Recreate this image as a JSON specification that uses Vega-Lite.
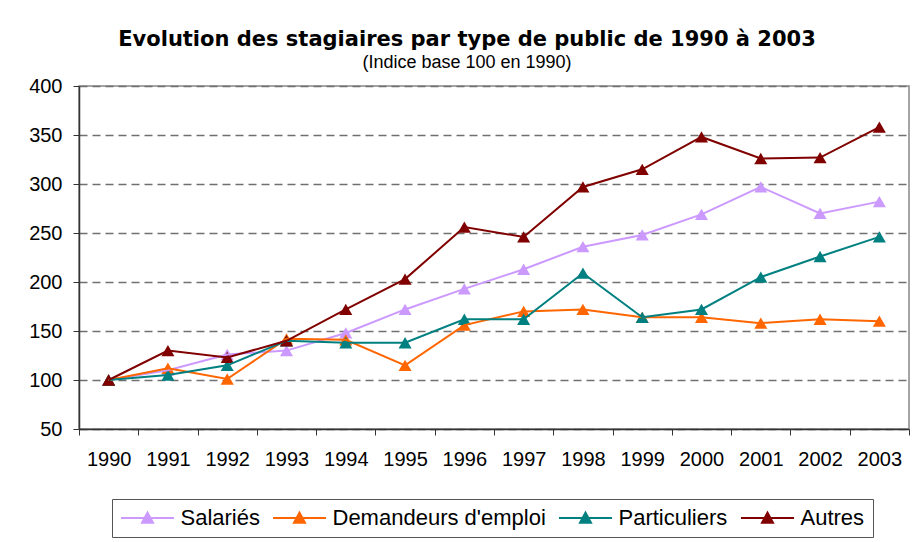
{
  "$schema": "https://vega.github.io/schema/vega-lite/v6.json",
  "width": 830,
  "height": 343,
  "autosize": {"type": "none"},
  "padding": {"left": 79, "top": 86, "right": 9, "bottom": 113},
  "background": "white",
  "title": {
    "text": "Evolution des stagiaires par type de public de 1990 à 2003",
    "subtitle": "(Indice base 100 en 1990)",
    "anchor": "middle",
    "dx": -27,
    "font": "DejaVu Sans",
    "fontSize": 21,
    "fontWeight": "bold",
    "color": "#000",
    "subtitleFont": "Liberation Sans",
    "subtitleFontSize": 18,
    "subtitleColor": "#000",
    "subtitlePadding": 4,
    "offset": 4
  },
  "data": {
    "values": [
      {"annee": "1990", "type": "Salariés", "valeur": 100},
      {"annee": "1991", "type": "Salariés", "valeur": 110},
      {"annee": "1992", "type": "Salariés", "valeur": 126},
      {"annee": "1993", "type": "Salariés", "valeur": 130},
      {"annee": "1994", "type": "Salariés", "valeur": 148},
      {"annee": "1995", "type": "Salariés", "valeur": 172},
      {"annee": "1996", "type": "Salariés", "valeur": 193},
      {"annee": "1997", "type": "Salariés", "valeur": 213},
      {"annee": "1998", "type": "Salariés", "valeur": 236},
      {"annee": "1999", "type": "Salariés", "valeur": 248},
      {"annee": "2000", "type": "Salariés", "valeur": 269},
      {"annee": "2001", "type": "Salariés", "valeur": 297},
      {"annee": "2002", "type": "Salariés", "valeur": 270},
      {"annee": "2003", "type": "Salariés", "valeur": 282},
      {"annee": "1990", "type": "Demandeurs d'emploi", "valeur": 100},
      {"annee": "1991", "type": "Demandeurs d'emploi", "valeur": 112},
      {"annee": "1992", "type": "Demandeurs d'emploi", "valeur": 101},
      {"annee": "1993", "type": "Demandeurs d'emploi", "valeur": 142},
      {"annee": "1994", "type": "Demandeurs d'emploi", "valeur": 141},
      {"annee": "1995", "type": "Demandeurs d'emploi", "valeur": 115},
      {"annee": "1996", "type": "Demandeurs d'emploi", "valeur": 156},
      {"annee": "1997", "type": "Demandeurs d'emploi", "valeur": 170},
      {"annee": "1998", "type": "Demandeurs d'emploi", "valeur": 172},
      {"annee": "1999", "type": "Demandeurs d'emploi", "valeur": 164},
      {"annee": "2000", "type": "Demandeurs d'emploi", "valeur": 164},
      {"annee": "2001", "type": "Demandeurs d'emploi", "valeur": 158},
      {"annee": "2002", "type": "Demandeurs d'emploi", "valeur": 162},
      {"annee": "2003", "type": "Demandeurs d'emploi", "valeur": 160},
      {"annee": "1990", "type": "Particuliers", "valeur": 100},
      {"annee": "1991", "type": "Particuliers", "valeur": 105},
      {"annee": "1992", "type": "Particuliers", "valeur": 115},
      {"annee": "1993", "type": "Particuliers", "valeur": 140},
      {"annee": "1994", "type": "Particuliers", "valeur": 138},
      {"annee": "1995", "type": "Particuliers", "valeur": 138},
      {"annee": "1996", "type": "Particuliers", "valeur": 162},
      {"annee": "1997", "type": "Particuliers", "valeur": 162},
      {"annee": "1998", "type": "Particuliers", "valeur": 209},
      {"annee": "1999", "type": "Particuliers", "valeur": 164},
      {"annee": "2000", "type": "Particuliers", "valeur": 172},
      {"annee": "2001", "type": "Particuliers", "valeur": 205},
      {"annee": "2002", "type": "Particuliers", "valeur": 226},
      {"annee": "2003", "type": "Particuliers", "valeur": 246},
      {"annee": "1990", "type": "Autres", "valeur": 100},
      {"annee": "1991", "type": "Autres", "valeur": 130},
      {"annee": "1992", "type": "Autres", "valeur": 123},
      {"annee": "1993", "type": "Autres", "valeur": 140},
      {"annee": "1994", "type": "Autres", "valeur": 172},
      {"annee": "1995", "type": "Autres", "valeur": 203},
      {"annee": "1996", "type": "Autres", "valeur": 256},
      {"annee": "1997", "type": "Autres", "valeur": 246},
      {"annee": "1998", "type": "Autres", "valeur": 297},
      {"annee": "1999", "type": "Autres", "valeur": 315},
      {"annee": "2000", "type": "Autres", "valeur": 348},
      {"annee": "2001", "type": "Autres", "valeur": 326},
      {"annee": "2002", "type": "Autres", "valeur": 327},
      {"annee": "2003", "type": "Autres", "valeur": 358}
    ]
  },
  "encoding": {
    "x": {
      "field": "annee",
      "type": "ordinal",
      "scale": {"paddingInner": 0, "paddingOuter": 0},
      "axis": {
        "title": null,
        "labelAngle": 0,
        "labelFont": "Liberation Sans",
        "labelFontSize": 20,
        "labelColor": "#000",
        "labelPadding": 14,
        "tickBand": "extent",
        "tickSize": 6,
        "tickColor": "#333",
        "domainColor": "#333",
        "domainWidth": 1.5,
        "grid": false
      }
    },
    "y": {
      "field": "valeur",
      "type": "quantitative",
      "scale": {"domain": [50, 400], "nice": false, "zero": false},
      "axis": {
        "title": null,
        "values": [50, 100, 150, 200, 250, 300, 350, 400],
        "labelFont": "Liberation Sans",
        "labelFontSize": 20,
        "labelColor": "#000",
        "labelPadding": 11,
        "tickSize": 6,
        "tickColor": "#333",
        "domainColor": "#333",
        "domainWidth": 1.5,
        "grid": true,
        "gridColor": "#707070",
        "gridDash": [8, 5],
        "gridWidth": 1.5
      }
    },
    "color": {
      "field": "type",
      "type": "nominal",
      "sort": ["Salariés", "Demandeurs d'emploi", "Particuliers", "Autres"],
      "scale": {
        "domain": ["Salariés", "Demandeurs d'emploi", "Particuliers", "Autres"],
        "range": ["#CC99FF", "#FF6600", "#008080", "#800000"]
      },
      "legend": {
        "title": null,
        "orient": "none",
        "legendX": 33,
        "legendY": 413,
        "direction": "horizontal",
        "strokeColor": "#555",
        "padding": 8,
        "symbolType": "M-2.65,0H2.65M-0.55,0.48L0,-0.55L0.55,0.48Z",
        "symbolSize": 400,
        "symbolStrokeWidth": 2,
        "symbolOffset": 16.5,
        "labelFont": "Liberation Sans",
        "labelFontSize": 22,
        "labelColor": "#000",
        "labelOffset": 22,
        "labelLimit": 0,
        "columnPadding": 9
      }
    },
    "order": {"field": "annee"}
  },
  "layer": [
    {"mark": {"type": "point", "shape": "triangle-up", "filled": true, "size": 170, "opacity": 1}},
    {"mark": {"type": "line", "strokeWidth": 2}}
  ],
  "config": {
    "view": {"stroke": "#888", "strokeWidth": 1.5},
    "axis": {"labelFlush": false}
  }
}
